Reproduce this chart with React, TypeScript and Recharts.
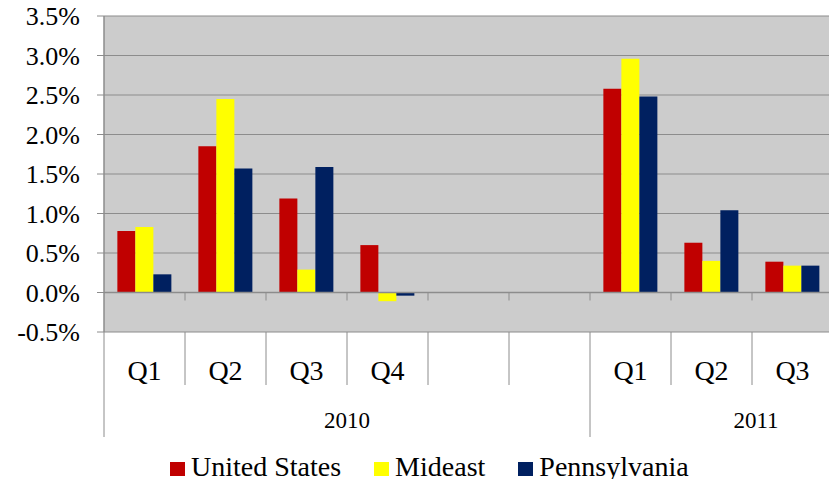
import {
  BarChart,
  Bar,
  XAxis,
  YAxis,
  CartesianGrid,
  ReferenceLine,
} from "recharts";

/* ── data ─────────────────────────────────────────────────────────── */

const quarters = ["Q1", "Q2", "Q3", "Q4", "", "", "Q1", "Q2", "Q3"];
const years = ["2010", "2010", "2010", "2010", "2010", "2010", "2011", "2011", "2011"];
const unitedStates = [0.78, 1.85, 1.19, 0.6, null, null, 2.58, 0.63, 0.39];
const mideast = [0.83, 2.45, 0.29, -0.11, null, null, 2.96, 0.4, 0.34];
const pennsylvania = [0.23, 1.57, 1.59, -0.04, null, null, 2.48, 1.04, 0.34];
const yTicks = [-0.5, 0, 0.5, 1, 1.5, 2, 2.5, 3, 3.5];

const series = [
  { key: "us", name: "United States", color: "#c00000" },
  { key: "mideast", name: "Mideast", color: "#ffff00" },
  { key: "pa", name: "Pennsylvania", color: "#002060" },
];

const data = quarters.map((q, i) => ({
  key: `${years[i]}-${i}`,
  q,
  year: years[i],
  us: unitedStates[i],
  mideast: mideast[i],
  pa: pennsylvania[i],
}));

/* ── layout ───────────────────────────────────────────────────────── */

const W = 837;
const H = 487;
const Y_AXIS_W = 104;
const RIGHT_W = 4;
const BAND = (W - Y_AXIS_W - RIGHT_W) / data.length;
const FONT = "Liberation Serif";
const LINE = "#8c8c8c";

// year label sits on the boundary after this index (Excel puts 2011 off-centre)
const yearLabelAfter: Record<number, string> = { 2: "2010", 7: "2011" };

function QuarterTick(props: any) {
  const { x, y, index } = props;
  const last = index === data.length - 1;
  const yearEnd = last || years[index] !== years[index + 1];
  const right = x + BAND / 2;
  return (
    <g>
      {index === 0 && (
        <line x1={x - BAND / 2} y1={y} x2={x - BAND / 2} y2={y + 105} stroke={LINE} />
      )}
      <line x1={right} y1={y} x2={right} y2={y + (yearEnd ? 105 : 53)} stroke={LINE} />
      <text
        x={x}
        y={y + 38}
        textAnchor="middle"
        dominantBaseline="central"
        fontFamily={FONT}
        fontSize={28}
        fill="#000"
      >
        {quarters[index]}
      </text>
      {yearLabelAfter[index] && (
        <text
          x={index === 7 ? right + 4 : right}
          y={y + 88}
          textAnchor="middle"
          dominantBaseline="central"
          fontFamily={FONT}
          fontSize={23}
          fill="#000"
        >
          {yearLabelAfter[index]}
        </text>
      )}
    </g>
  );
}

function ZeroAxis(props: any) {
  const { x1, y1, x2 } = props;
  const step = (x2 - x1) / data.length;
  return (
    <g>
      <line x1={x1} y1={y1} x2={x2} y2={y1} stroke={LINE} strokeWidth={1.5} />
      {data.map((_, i) => (
        <line
          key={i}
          x1={x1 + step * (i + 1)}
          y1={y1}
          x2={x1 + step * (i + 1)}
          y2={y1 + 8}
          stroke={LINE}
        />
      ))}
    </g>
  );
}

function LegendRow() {
  return (
    <div
      style={{
        position: "absolute",
        left: 170,
        top: 450,
        display: "flex",
        alignItems: "center",
        fontFamily: FONT,
        fontSize: 28,
        lineHeight: "34px",
        color: "#000",
        whiteSpace: "nowrap",
      }}
    >
      {series.map((s) => (
        <div key={s.key} style={{ display: "flex", alignItems: "center", marginRight: 33 }}>
          <span
            style={{
              display: "inline-block",
              width: 15,
              height: 14,
              background: s.color,
              marginRight: 6,
              marginTop: 4,
            }}
          />
          <span>{s.name}</span>
        </div>
      ))}
    </div>
  );
}

export default function App() {
  return (
    <div style={{ margin: -8, background: "#fff", width: W, height: H, position: "relative" }}>
      <BarChart
        width={W}
        height={H}
        data={data}
        margin={{ top: 16, right: 0, left: 0, bottom: 50 }}
        barGap={0}
        barCategoryGap="16.5%"
      >
        <CartesianGrid
          vertical={false}
          stroke={LINE}
          strokeWidth={1.2}
          fill="#cccccc"
          fillOpacity={1}
        />
        <XAxis
          dataKey="key"
          height={105}
          axisLine={false}
          tickLine={false}
          tickSize={0}
          tickMargin={0}
          interval={0}
          tick={(p: any) => <QuarterTick {...p} />}
        />
        <YAxis
          width={Y_AXIS_W}
          domain={[-0.5, 3.5]}
          ticks={yTicks}
          interval={0}
          axisLine={{ stroke: LINE, strokeWidth: 1.5 }}
          tickLine={{ stroke: LINE }}
          tickSize={7}
          tickMargin={17}
          tickFormatter={(v: number) => `${v.toFixed(1)}%`}
          tick={{ fontFamily: FONT, fontSize: 26, fill: "#000" }}
        />
        <YAxis
          yAxisId="right"
          orientation="right"
          width={RIGHT_W}
          domain={[-0.5, 3.5]}
          tick={false}
          tickLine={false}
          axisLine={{ stroke: LINE, strokeWidth: 1.5 }}
        />
        {series.map((s) => (
          <Bar
            key={s.key}
            dataKey={s.key}
            name={s.name}
            fill={s.color}
            isAnimationActive={false}
          />
        ))}
        <ReferenceLine y={0} shape={(p: any) => <ZeroAxis {...p} />} />
      </BarChart>
      <LegendRow />
    </div>
  );
}
